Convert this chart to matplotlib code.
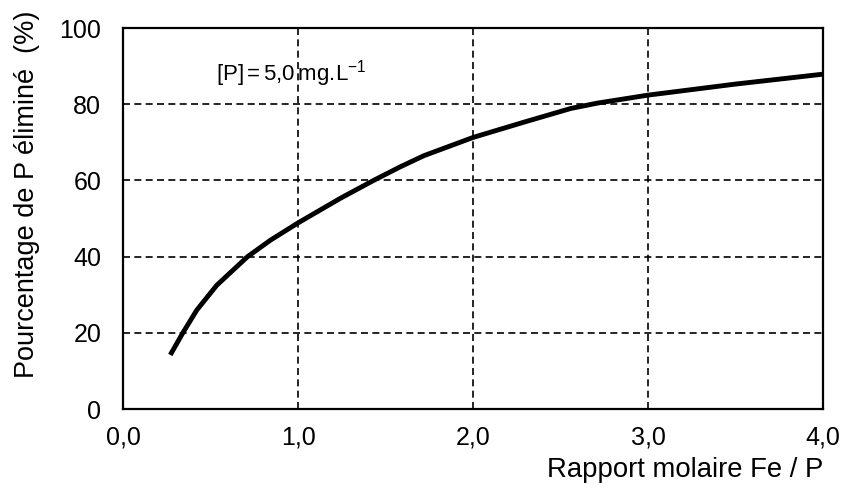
import numpy as np
import matplotlib
matplotlib.use('Agg')
import matplotlib.pyplot as plt

plt.rcParams['font.family'] = ['Liberation Sans', 'DejaVu Sans']
plt.rcParams['mathtext.default'] = 'regular'

# courbe
ratio = [0.268, 0.34, 0.42, 0.534, 0.71, 0.84, 1.0, 1.24, 1.43, 1.584, 1.718, 2.0, 2.29, 2.558, 2.71, 3.0, 3.5, 4.0]
removed = [14.2, 20.0, 26.0, 32.5, 40.0, 44.3, 48.9, 55.3, 60.0, 63.6, 66.5, 71.3, 75.3, 78.9, 80.3, 82.4, 85.3, 87.9]

xticks = [0, 1, 2, 3, 4]
xticklabels = ['0,0', '1,0', '2,0', '3,0', '4,0']
yticks = [0, 20, 40, 60, 80, 100]

fig = plt.figure(figsize=(8.47, 4.96), dpi=100)
ax = fig.add_axes([0.1457, 0.1754, 0.826, 0.768])

ax.plot(ratio, removed, color='black', linewidth=3.5, solid_capstyle='butt',
        solid_joinstyle='round')

for x in [1, 2, 3]:
    ax.axvline(x, color='black', linewidth=1.2, linestyle=(0, (4.2, 2.6)), zorder=0)
for y in [20, 40, 60, 80]:
    ax.axhline(y, color='black', linewidth=1.2, linestyle=(0, (4.2, 2.6)), zorder=0)

ax.set_xlim(0, 4)
ax.set_ylim(0, 100)
ax.set_xticks(xticks)
ax.set_xticklabels(xticklabels)
ax.set_yticks(yticks)
ax.tick_params(length=0, labelsize=18)
ax.tick_params(axis='x', pad=12)
ax.tick_params(axis='y', pad=16)
for s in ax.spines.values():
    s.set_linewidth(1.6)

ax.text(0.53, 88, '[P]$\\,$=$\\,$5,0$\\,$mg.L$^{-1}$', fontsize=16, va='center', ha='left')

fig.text(0.9717, 0.052, 'Rapport molaire Fe / P', fontsize=19.8, ha='right', va='center')
fig.text(0.032, 0.609, 'Pourcentage de P éliminé  (%)', fontsize=19.5, rotation=90,
         ha='center', va='center')

fig.savefig('out.png', dpi=100)
